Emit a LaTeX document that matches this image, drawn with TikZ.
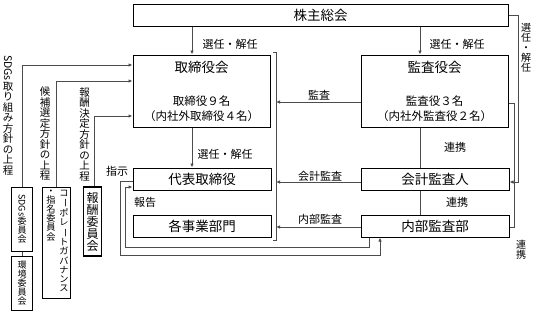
\documentclass[tikz,border=0pt]{standalone}
\usepackage{graphicx}
\usepackage{fontspec}
\setmainfont{Noto Sans CJK JP}
\usetikzlibrary{positioning,arrows.meta,calc}

\newcommand{\jfs}[1]{\fontsize{#1}{#1}\selectfont}
\newcommand{\tatebar}{\rotatebox[origin=c]{-90}{ー}}
\newcommand{\tatesdgs}{\rotatebox[origin=c]{-90}{SDGs}}

\begin{document}
\begin{tikzpicture}[x=1pt,y=-1pt,
    box/.style={draw=black, line width=1pt, inner sep=0pt, align=center},
    vbox/.style={box, font=\jfs{9}},
    lbl/.style={inner sep=0pt, font=\jfs{11}},
    vlab/.style={inner sep=0pt, align=center, font=\jfs{10.5}},
    ln/.style={draw=black!70, line width=0.8pt},
    arr/.style={ln, -{Latex[length=4pt,width=3.5pt]}}]
    \useasboundingbox (0,0) rectangle (536,314);

    % main boxes
    \node[box, minimum width=375, minimum height=22, font=\jfs{13.5}] (soukai) at (320.5,15) {株主総会};
    \node[box, minimum width=137, minimum height=72, font=\fontsize{11.5}{15}\selectfont] (torishimari) at (201.5,91)
        {{\jfs{13.5}取締役会}\\[18pt]取締役９名\\（内社外取締役４名）};
    \node[box, minimum width=147, minimum height=72, font=\fontsize{11.5}{15}\selectfont] (kansayaku) at (434.5,91)
        {{\jfs{13.5}監査役会}\\[18pt]監査役３名\\（内社外監査役２名）};
    \node[box, minimum width=138, minimum height=22, font=\jfs{13.5}] (daihyo) at (202,179) {代表取締役};
    \node[box, minimum width=138, minimum height=22, font=\jfs{13.5}] (jigyo) at (202,226) {各事業部門};
    \node[box, minimum width=148, minimum height=22, font=\jfs{13.5}] (kaikei) at (435,179) {会計監査人};
    \node[box, minimum width=148, minimum height=22, font=\jfs{13.5}] (naibu) at (435,226) {内部監査部};

    % committees
    \node[vbox, minimum width=21, minimum height=64] (sdgs) at (22,219) {\tatesdgs\\委\\員\\会};
    \node[vbox, minimum width=21, minimum height=54] (kankyo) at (22,283) {環\\境\\委\\員\\会};
    \node[vbox, minimum width=28, minimum height=111] (cg) at (56.5,242.5) {};
    \node[vlab, font=\jfs{9.2}, anchor=north] (cgright) at ([xshift=7.5pt,yshift=-3pt]cg.north)
        {コ\\\tatebar\\ポ\\レ\\\tatebar\\ト\\ガ\\バ\\ナ\\ン\\ス};
    \node[vlab, font=\jfs{9.2}, anchor=north] (cgleft) at ([xshift=-5.5pt,yshift=-3pt]cg.north)
        {・\\指\\名\\委\\員\\会};
    \node[box, line width=1.5pt, minimum width=18, minimum height=69, font=\jfs{12}] (hoshu) at (92.5,221.5) {報\\酬\\委\\員\\会};

    % bracket round the board side
    \coordinate (brtop) at (276,52);
    \coordinate (brbot) at (276,240);
    \draw[ln] ([xshift=-3pt]brtop) -- (brtop) -- (brbot) -- ([xshift=-3pt]brbot);

    % vertical connectors
    \draw[arr] ([xshift=-9.5pt]torishimari.north |- soukai.south) -- ([xshift=-9.5pt]torishimari.north);
    \draw[arr] ([xshift=-14.5pt]kansayaku.north |- soukai.south) -- ([xshift=-14.5pt]kansayaku.north);
    \draw[arr] ([xshift=-10pt]daihyo.north |- torishimari.south) -- ([xshift=-10pt]daihyo.north);
    \draw[ln] ([xshift=-15pt]kaikei.north |- kansayaku.south) -- ([xshift=-15pt]kaikei.north);
    \draw[ln] ([xshift=-15pt]naibu.north |- kaikei.south) -- ([xshift=-15pt]naibu.north);

    % audits into the bracket
    \draw[arr] ([yshift=-11pt]kansayaku.west) -- ([yshift=-11pt]kansayaku.west -| brtop);
    \draw[arr] ([yshift=-3pt]kaikei.west) -- ([yshift=-3pt]kaikei.west -| brtop);
    \draw[arr] ([yshift=-1pt]naibu.west) -- ([yshift=-1pt]naibu.west -| brtop);

    % right side
    \draw[arr] (soukai.east) -- ++(10pt,0) |- ([yshift=-3pt]kaikei.east);
    \draw[ln] ([yshift=-12pt]kansayaku.east) -- ++(6pt,0) |- ([yshift=-1pt]naibu.east);

    % loops below
    \coordinate (shijiturn) at (120,255);
    \coordinate (hokokuturn) at (125,247);
    \draw[arr] ([yshift=-2pt]daihyo.west) -| (shijiturn) -| ([xshift=-55pt]naibu.south);
    \draw[arr] ([xshift=-66pt]naibu.south) |- (hokokuturn) |- ([yshift=-8pt]daihyo.west);

    % committees to the board
    \draw[ln] (sdgs.south) -- (kankyo.north);
    \draw[arr] (sdgs.north) |- ([yshift=26pt]torishimari.west);
    \draw[arr] (cg.north) |- ([yshift=10pt]torishimari.west);
    \draw[arr] ([xshift=2pt]hoshu.north) |- ([yshift=-25pt]torishimari.west);

    % labels
    \node[lbl] (selA) at (230,44) {選任・解任};
    \node[lbl] (selB) at (457,44) {選任・解任};
    \node[lbl] (selC) at (225,154) {選任・解任};
    \node[lbl] (renA) at (455,147) {連携};
    \node[lbl] (renB) at (457,202) {連携};
    \node[lbl] (kansa) at (319,95) {監査};
    \node[lbl] (kaikeikansa) at (320,176) {会計監査};
    \node[lbl] (naibukansa) at (320,219) {内部監査};
    \node[lbl] (shiji) at (117,171) {指示};
    \node[lbl] (hokoku) at (145,202) {報告};
    \node[vlab, font=\jfs{10}] (selR) at (526,48) {選\\任\\・\\解\\任};
    \node[vlab, font=\jfs{10}] (renR) at (521,250) {連\\携};
    \node[vlab, anchor=north] (sdgsnote) at (8,55) {\tatesdgs\\取\\り\\組\\み\\方\\針\\の\\上\\程};
    \node[vlab, anchor=north] (cgnote) at (45,87) {候\\補\\選\\定\\方\\針\\の\\上\\程};
    \node[vlab, anchor=north] (hoshunote) at (84.5,87) {報\\酬\\決\\定\\方\\針\\の\\上\\程};
\end{tikzpicture}
\end{document}
